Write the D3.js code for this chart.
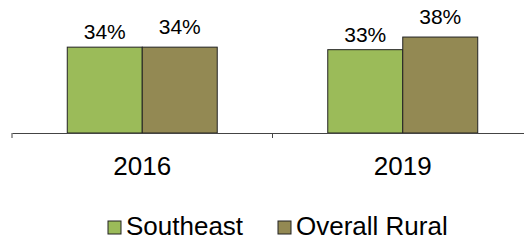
<!DOCTYPE html>
<html><head><meta charset="utf-8">
<script src="https://cdn.jsdelivr.net/npm/d3@7"></script>
<style>body{margin:0;background:#fff}svg{display:block}text{font-family:"Liberation Sans",Arial,sans-serif;fill:#000}</style>
</head><body><svg id="c" width="524" height="241"></svg>
<script>
const categories = ["2016", "2019"];
const seriesNames = ["Southeast", "Overall Rural"];
const southeast = [34, 33];
const overallRural = [34, 38];
const colors = ["#9BBB59", "#938953"];
const labelOffsets = [8, 13];

const series = [southeast, overallRural];
const svg = d3.select("#c");
const x = d3.scaleBand().domain(categories).range([12, 533]).paddingInner(0).paddingOuter(0);
const inner = d3.scaleBand().domain(seriesNames).range([0, x.bandwidth()]).paddingInner(0).paddingOuter(0.737);
const y = d3.scaleLinear().domain([0, 40]).range([133, 32]);

const g = svg.append("g");
categories.forEach((c, i) => {
  seriesNames.forEach((s, j) => {
    const v = series[j][i];
    g.append("rect")
      .attr("x", x(c) + inner(s))
      .attr("y", y(v))
      .attr("width", inner.bandwidth())
      .attr("height", y(0) - y(v))
      .attr("fill", colors[j])
      .attr("stroke", "#222").attr("stroke-width", 1);
    g.append("text")
      .attr("x", x(c) + inner(s) + inner.bandwidth() / 2)
      .attr("y", y(v) - labelOffsets[j])
      .attr("text-anchor", "middle")
      .attr("font-size", 21)
      .text(v + "%");
  });
});

const axis = d3.axisBottom(x).tickSizeInner(0).tickSizeOuter(0).tickPadding(23.5);
const ax = svg.append("g").attr("transform", "translate(0,133)").call(axis);
ax.select(".domain").attr("stroke", "#444");
ax.selectAll(".tick text").attr("font-size", 26).attr("font-family", '"Liberation Sans",Arial,sans-serif').attr("fill", "#000");
ax.selectAll(".tick line").remove();
ax.selectAll(".bt").data(categories).enter().append("line")
  .attr("x1", d => x(d)).attr("x2", d => x(d)).attr("y1", 0).attr("y2", 5).attr("stroke", "#444");

const leg = svg.append("g");
const legX = [108, 278];
seriesNames.forEach((s, j) => {
  leg.append("rect").attr("x", legX[j]).attr("y", 221).attr("width", 13).attr("height", 13)
    .attr("fill", colors[j]).attr("stroke", "#222");
  leg.append("text").attr("x", legX[j] + 18).attr("y", 235).attr("font-size", 26).text(s);
});
</script></body></html>
